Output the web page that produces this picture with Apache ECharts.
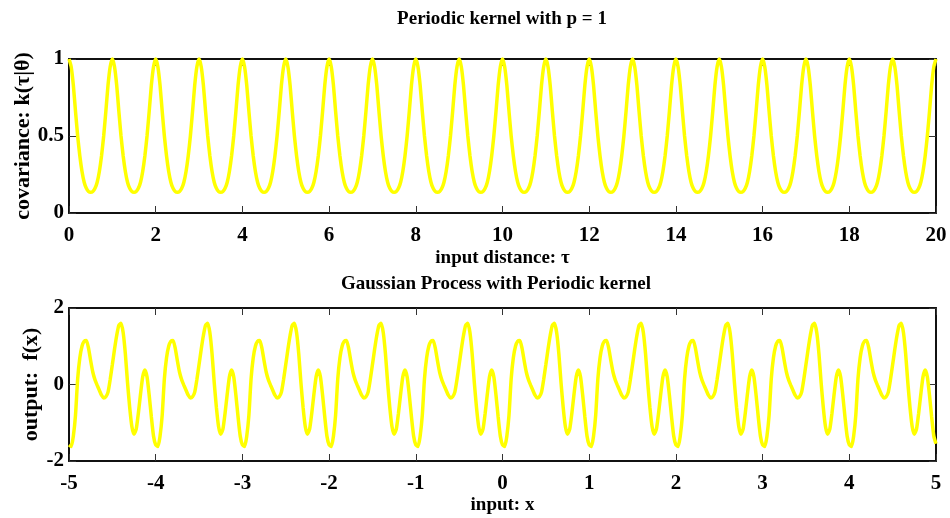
<!DOCTYPE html>
<html>
<head>
<meta charset="utf-8">
<script src="https://cdn.jsdelivr.net/npm/echarts@6/dist/echarts.min.js"></script>
<style>
  html, body { margin: 0; padding: 0; background: #fff; }
  #chart { width: 950px; height: 518px; }
</style>
</head>
<body>
<div id="chart"></div>
<script>
// TOP: periodic kernel k(tau), sampled every 0.05 from 0 to 20
const tauStart = 0;
const tauStep = 0.05;
const kernelValues = [
  1.00,0.95,0.83,0.66,0.50,0.37,0.27,0.20,0.16,0.14,0.135,0.14,0.16,0.20,0.27,0.37,0.50,0.66,0.83,0.95,
  1.00,0.95,0.83,0.66,0.50,0.37,0.27,0.20,0.16,0.14,0.135,0.14,0.16,0.20,0.27,0.37,0.50,0.66,0.83,0.95,
  1.00,0.95,0.83,0.66,0.50,0.37,0.27,0.20,0.16,0.14,0.135,0.14,0.16,0.20,0.27,0.37,0.50,0.66,0.83,0.95,
  1.00,0.95,0.83,0.66,0.50,0.37,0.27,0.20,0.16,0.14,0.135,0.14,0.16,0.20,0.27,0.37,0.50,0.66,0.83,0.95,
  1.00,0.95,0.83,0.66,0.50,0.37,0.27,0.20,0.16,0.14,0.135,0.14,0.16,0.20,0.27,0.37,0.50,0.66,0.83,0.95,
  1.00,0.95,0.83,0.66,0.50,0.37,0.27,0.20,0.16,0.14,0.135,0.14,0.16,0.20,0.27,0.37,0.50,0.66,0.83,0.95,
  1.00,0.95,0.83,0.66,0.50,0.37,0.27,0.20,0.16,0.14,0.135,0.14,0.16,0.20,0.27,0.37,0.50,0.66,0.83,0.95,
  1.00,0.95,0.83,0.66,0.50,0.37,0.27,0.20,0.16,0.14,0.135,0.14,0.16,0.20,0.27,0.37,0.50,0.66,0.83,0.95,
  1.00,0.95,0.83,0.66,0.50,0.37,0.27,0.20,0.16,0.14,0.135,0.14,0.16,0.20,0.27,0.37,0.50,0.66,0.83,0.95,
  1.00,0.95,0.83,0.66,0.50,0.37,0.27,0.20,0.16,0.14,0.135,0.14,0.16,0.20,0.27,0.37,0.50,0.66,0.83,0.95,
  1.00,0.95,0.83,0.66,0.50,0.37,0.27,0.20,0.16,0.14,0.135,0.14,0.16,0.20,0.27,0.37,0.50,0.66,0.83,0.95,
  1.00,0.95,0.83,0.66,0.50,0.37,0.27,0.20,0.16,0.14,0.135,0.14,0.16,0.20,0.27,0.37,0.50,0.66,0.83,0.95,
  1.00,0.95,0.83,0.66,0.50,0.37,0.27,0.20,0.16,0.14,0.135,0.14,0.16,0.20,0.27,0.37,0.50,0.66,0.83,0.95,
  1.00,0.95,0.83,0.66,0.50,0.37,0.27,0.20,0.16,0.14,0.135,0.14,0.16,0.20,0.27,0.37,0.50,0.66,0.83,0.95,
  1.00,0.95,0.83,0.66,0.50,0.37,0.27,0.20,0.16,0.14,0.135,0.14,0.16,0.20,0.27,0.37,0.50,0.66,0.83,0.95,
  1.00,0.95,0.83,0.66,0.50,0.37,0.27,0.20,0.16,0.14,0.135,0.14,0.16,0.20,0.27,0.37,0.50,0.66,0.83,0.95,
  1.00,0.95,0.83,0.66,0.50,0.37,0.27,0.20,0.16,0.14,0.135,0.14,0.16,0.20,0.27,0.37,0.50,0.66,0.83,0.95,
  1.00,0.95,0.83,0.66,0.50,0.37,0.27,0.20,0.16,0.14,0.135,0.14,0.16,0.20,0.27,0.37,0.50,0.66,0.83,0.95,
  1.00,0.95,0.83,0.66,0.50,0.37,0.27,0.20,0.16,0.14,0.135,0.14,0.16,0.20,0.27,0.37,0.50,0.66,0.83,0.95,
  1.00,0.95,0.83,0.66,0.50,0.37,0.27,0.20,0.16,0.14,0.135,0.14,0.16,0.20,0.27,0.37,0.50,0.66,0.83,0.95,
  1.00
];

// BOTTOM: GP sample f(x), sampled every 0.025 from -5 to 5
const xStart = -5;
const xStep = 0.025;
const gpValues = [
  -1.58,-1.62,-1.35,-0.80,0.15,0.70,1.00,1.13,1.15,0.95,0.62,0.32,0.12,-0.02,-0.15,-0.28,-0.35,-0.32,-0.20,0.13,
  0.52,0.92,1.28,1.55,1.60,1.35,0.80,0.05,-0.60,-1.10,-1.30,-1.17,-0.75,-0.25,0.20,0.38,0.20,-0.28,-0.85,-1.35,
  -1.58,-1.62,-1.35,-0.80,0.15,0.70,1.00,1.13,1.15,0.95,0.62,0.32,0.12,-0.02,-0.15,-0.28,-0.35,-0.32,-0.20,0.13,
  0.52,0.92,1.28,1.55,1.60,1.35,0.80,0.05,-0.60,-1.10,-1.30,-1.17,-0.75,-0.25,0.20,0.38,0.20,-0.28,-0.85,-1.35,
  -1.58,-1.62,-1.35,-0.80,0.15,0.70,1.00,1.13,1.15,0.95,0.62,0.32,0.12,-0.02,-0.15,-0.28,-0.35,-0.32,-0.20,0.13,
  0.52,0.92,1.28,1.55,1.60,1.35,0.80,0.05,-0.60,-1.10,-1.30,-1.17,-0.75,-0.25,0.20,0.38,0.20,-0.28,-0.85,-1.35,
  -1.58,-1.62,-1.35,-0.80,0.15,0.70,1.00,1.13,1.15,0.95,0.62,0.32,0.12,-0.02,-0.15,-0.28,-0.35,-0.32,-0.20,0.13,
  0.52,0.92,1.28,1.55,1.60,1.35,0.80,0.05,-0.60,-1.10,-1.30,-1.17,-0.75,-0.25,0.20,0.38,0.20,-0.28,-0.85,-1.35,
  -1.58,-1.62,-1.35,-0.80,0.15,0.70,1.00,1.13,1.15,0.95,0.62,0.32,0.12,-0.02,-0.15,-0.28,-0.35,-0.32,-0.20,0.13,
  0.52,0.92,1.28,1.55,1.60,1.35,0.80,0.05,-0.60,-1.10,-1.30,-1.17,-0.75,-0.25,0.20,0.38,0.20,-0.28,-0.85,-1.35,
  -1.58,-1.62,-1.35,-0.80,0.15,0.70,1.00,1.13,1.15,0.95,0.62,0.32,0.12,-0.02,-0.15,-0.28,-0.35,-0.32,-0.20,0.13,
  0.52,0.92,1.28,1.55,1.60,1.35,0.80,0.05,-0.60,-1.10,-1.30,-1.17,-0.75,-0.25,0.20,0.38,0.20,-0.28,-0.85,-1.35,
  -1.58,-1.62,-1.35,-0.80,0.15,0.70,1.00,1.13,1.15,0.95,0.62,0.32,0.12,-0.02,-0.15,-0.28,-0.35,-0.32,-0.20,0.13,
  0.52,0.92,1.28,1.55,1.60,1.35,0.80,0.05,-0.60,-1.10,-1.30,-1.17,-0.75,-0.25,0.20,0.38,0.20,-0.28,-0.85,-1.35,
  -1.58,-1.62,-1.35,-0.80,0.15,0.70,1.00,1.13,1.15,0.95,0.62,0.32,0.12,-0.02,-0.15,-0.28,-0.35,-0.32,-0.20,0.13,
  0.52,0.92,1.28,1.55,1.60,1.35,0.80,0.05,-0.60,-1.10,-1.30,-1.17,-0.75,-0.25,0.20,0.38,0.20,-0.28,-0.85,-1.35,
  -1.58,-1.62,-1.35,-0.80,0.15,0.70,1.00,1.13,1.15,0.95,0.62,0.32,0.12,-0.02,-0.15,-0.28,-0.35,-0.32,-0.20,0.13,
  0.52,0.92,1.28,1.55,1.60,1.35,0.80,0.05,-0.60,-1.10,-1.30,-1.17,-0.75,-0.25,0.20,0.38,0.20,-0.28,-0.85,-1.35,
  -1.58,-1.62,-1.35,-0.80,0.15,0.70,1.00,1.13,1.15,0.95,0.62,0.32,0.12,-0.02,-0.15,-0.28,-0.35,-0.32,-0.20,0.13,
  0.52,0.92,1.28,1.55,1.60,1.35,0.80,0.05,-0.60,-1.10,-1.30,-1.17,-0.75,-0.25,0.20,0.38,0.20,-0.28,-0.85,-1.35,
  -1.55
];

const titles = ["Periodic kernel with p = 1", "Gaussian Process with Periodic kernel"];

const FONT = "'Liberation Serif', 'Times New Roman', serif";

let chart = echarts.init(document.getElementById("chart"));

function toPairs(start, step, values) {
  return values.map((v, i) => [+(start + i * step).toFixed(4), v]);
}

const boxLine = { show: true, onZero: false, lineStyle: { color: "#111", width: 2 } };
const innerTick = { show: true, inside: true, length: 7, lineStyle: { color: "#333" } };

function mainX(gridIndex, min, max, interval, name, nameGap, margin) {
  return {
    type: "value",
    gridIndex,
    position: "bottom",
    min,
    max,
    interval,
    name,
    nameLocation: "middle",
    nameGap,
    nameMoveOverlap: false,
    nameTextStyle: { fontFamily: FONT, fontWeight: "bold", fontSize: 19, color: "#000" },
    axisLine: boxLine,
    axisTick: innerTick,
    axisLabel: { fontFamily: FONT, fontWeight: "bold", fontSize: 21, color: "#000", margin },
    splitLine: { show: false },
  };
}

function mirrorX(gridIndex, min, max, interval) {
  return {
    type: "value",
    gridIndex,
    position: "top",
    min,
    max,
    interval,
    axisLine: boxLine,
    axisTick: innerTick,
    axisLabel: { show: false },
    splitLine: { show: false },
  };
}

function mainY(gridIndex, min, max, interval, name, nameGap) {
  return {
    type: "value",
    gridIndex,
    position: "left",
    min,
    max,
    interval,
    name,
    nameLocation: "middle",
    nameGap,
    nameMoveOverlap: false,
    nameTextStyle: { fontFamily: FONT, fontWeight: "bold", fontSize: 22, color: "#000" },
    axisLine: boxLine,
    axisTick: innerTick,
    axisLabel: { fontFamily: FONT, fontWeight: "bold", fontSize: 21, color: "#000", margin: 5 },
    splitLine: { show: false },
  };
}

function mirrorY(gridIndex, min, max, interval) {
  return {
    type: "value",
    gridIndex,
    position: "right",
    min,
    max,
    interval,
    axisLine: boxLine,
    axisTick: innerTick,
    axisLabel: { show: false },
    splitLine: { show: false },
  };
}

let option = {
  backgroundColor: "#fff",
  animation: false,
  title: [
    {
      text: titles[0],
      left: 502,
      textAlign: "center",
      top: 10,
      padding: 0,
      textStyle: { fontFamily: FONT, fontWeight: "bold", fontSize: 19, color: "#000" },
    },
    {
      text: titles[1],
      left: 496,
      textAlign: "center",
      top: 275,
      padding: 0,
      textStyle: { fontFamily: FONT, fontWeight: "bold", fontSize: 19, color: "#000" },
    },
  ],
  grid: [
    { left: 69, right: 14, top: 59, height: 154, outerBoundsMode: "none" },
    { left: 69, right: 14, top: 308, height: 153, outerBoundsMode: "none" },
  ],
  xAxis: [
    mainX(0, 0, 20, 2, "input distance: τ", 36, 12),
    mirrorX(0, 0, 20, 2),
    mainX(1, -5, 5, 1, "input: x", 35, 12),
    mirrorX(1, -5, 5, 1),
  ],
  yAxis: [
    mainY(0, 0, 1, 0.5, "covariance: k(τ|θ)", 35),
    mirrorY(0, 0, 1, 0.5),
    mainY(1, -2, 2, 2, "output:  f(x)", 27),
    mirrorY(1, -2, 2, 2),
  ],
  series: [
    {
      type: "line",
      xAxisIndex: 0,
      yAxisIndex: 0,
      data: toPairs(tauStart, tauStep, kernelValues),
      showSymbol: false,
      clip: false,
      smooth: 0.2,
      lineStyle: { color: "#ffff00", width: 3.5 },
    },
    {
      type: "line",
      xAxisIndex: 2,
      yAxisIndex: 2,
      data: toPairs(xStart, xStep, gpValues),
      showSymbol: false,
      clip: false,
      smooth: 0.2,
      lineStyle: { color: "#ffff00", width: 3.5 },
    },
  ],
};

chart.setOption(option);
</script>
</body>
</html>
